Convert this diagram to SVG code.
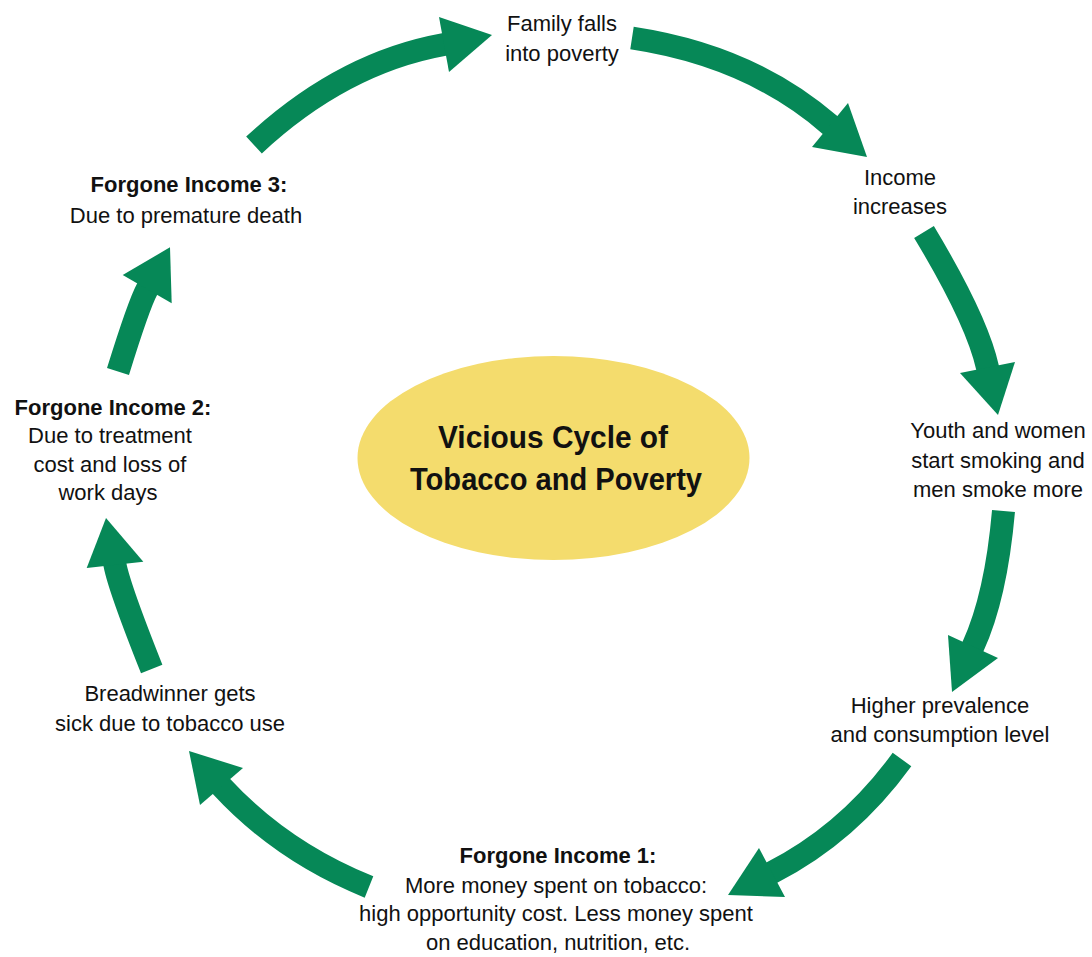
<svg xmlns="http://www.w3.org/2000/svg" width="1092" height="957" viewBox="0 0 1092 957">
<style>
.t{font-family:"Liberation Sans",Arial,sans-serif;font-size:22px;fill:#111;text-anchor:middle}
.b{font-weight:bold}
.c{font-family:"Liberation Sans",Arial,sans-serif;font-size:31px;font-weight:bold;fill:#111;text-anchor:middle}
.shaft{fill:none;stroke:#068857;stroke-width:23;stroke-linecap:butt}
.head{fill:#068857}
</style>
<rect width="1092" height="957" fill="#fff"/>
<g id="connectors">
<path class="shaft" d="M254,145 Q342,63 444,44.5 L454,42.6"/>
<polygon class="head" points="439,17 449,72 492,35"/>
<path class="shaft" d="M632,38 Q751,56 830,125 L838,131.5"/>
<polygon class="head" points="812,147 848,103 867,157"/>
<path class="shaft" d="M924,232 Q977,320 987.5,367.5 L989.7,377"/>
<polygon class="head" points="960,373 1015,362 998,415"/>
<path class="shaft" d="M1003.5,511 Q996,596.5 973,646.5 L968.8,655.6"/>
<polygon class="head" points="948,635 998,658 952,692"/>
<path class="shaft" d="M902,759.5 Q848.5,833.4 772,872.5 L763,877"/>
<polygon class="head" points="759,848 785,897 728,895"/>
<path class="shaft" d="M369,887 Q282,852 221.5,786.5 L214.7,779"/>
<polygon class="head" points="243,768 200,805 189,751"/>
<path class="shaft" d="M151.7,669 Q119.4,588 115,565 L113,555"/>
<polygon class="head" points="86.7,568 143.3,561.7 106,518"/>
<path class="shaft" d="M118,371.5 Q138.7,304.7 147.2,289 L152,280"/>
<polygon class="head" points="122.7,275 171.7,303.3 170,247.3"/>
</g>
<g id="center">
<ellipse cx="553.5" cy="458" rx="196" ry="102" fill="#F4DC6D"/>
<text class="c" x="553" y="448" textLength="230" lengthAdjust="spacingAndGlyphs">Vicious Cycle of</text>
<text class="c" x="556" y="490" textLength="292" lengthAdjust="spacingAndGlyphs">Tobacco and Poverty</text>
</g>
<g id="family">
<text class="t" x="562" y="31">Family falls</text>
<text class="t" x="562" y="61">into poverty</text>
</g>
<g id="income">
<text class="t" x="900" y="185">Income</text>
<text class="t" x="900" y="214">increases</text>
</g>
<g id="youth">
<text class="t" x="998" y="438">Youth and women</text>
<text class="t" x="998" y="468">start smoking and</text>
<text class="t" x="998" y="497">men smoke more</text>
</g>
<g id="higher">
<text class="t" x="940" y="713">Higher prevalence</text>
<text class="t" x="940" y="742">and consumption level</text>
</g>
<g id="forgone1">
<text class="t b" x="558" y="863">Forgone Income 1:</text>
<text class="t" x="556" y="893">More money spent on tobacco:</text>
<text class="t" x="556" y="921">high opportunity cost. Less money spent</text>
<text class="t" x="558" y="950">on education, nutrition, etc.</text>
</g>
<g id="breadwinner">
<text class="t" x="170" y="701">Breadwinner gets</text>
<text class="t" x="170" y="731">sick due to tobacco use</text>
</g>
<g id="forgone2">
<text class="t b" x="113" y="415">Forgone Income 2:</text>
<text class="t" x="110" y="443">Due to treatment</text>
<text class="t" x="110" y="472">cost and loss of</text>
<text class="t" x="108" y="500">work days</text>
</g>
<g id="forgone3">
<text class="t b" x="189" y="192">Forgone Income 3:</text>
<text class="t" x="186" y="223">Due to premature death</text>
</g>
</svg>
